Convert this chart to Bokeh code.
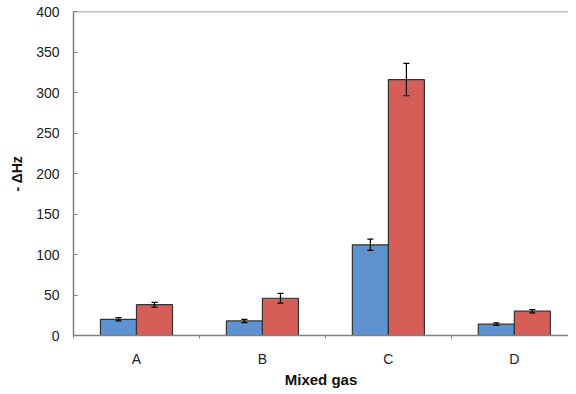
from bokeh.plotting import figure
from bokeh.models import ColumnDataSource, Whisker, FixedTicker, Range1d, Span
from bokeh.embed import file_html
from bokeh.resources import INLINE

categories = ["A", "B", "C", "D"]
series1 = [20, 18, 112, 14]
series1_err = [2, 2, 7, 1.5]
series2 = [38, 46, 316, 30]
series2_err = [3, 6, 20, 2]
y_ticks = [0, 50, 100, 150, 200, 250, 300, 350, 400]

bar_w = 0.286
idx = list(range(len(categories)))
centers = [i + 0.5 for i in idx]
x1 = [c - bar_w / 2 for c in centers]
x2 = [c + bar_w / 2 for c in centers]

src1 = ColumnDataSource(dict(x=x1, top=series1,
                             lo=[v - e for v, e in zip(series1, series1_err)],
                             hi=[v + e for v, e in zip(series1, series1_err)]))
src2 = ColumnDataSource(dict(x=x2, top=series2,
                             lo=[v - e for v, e in zip(series2, series2_err)],
                             hi=[v + e for v, e in zip(series2, series2_err)]))

p = figure(width=568, height=390, output_backend="svg", toolbar_location=None,
           x_range=Range1d(0, 3.93), y_range=Range1d(0, 400),
           min_border_left=73, min_border_right=0, min_border_top=11, min_border_bottom=50)
p.outline_line_color = None
p.xgrid.grid_line_color = None
p.ygrid.grid_line_color = None
p.background_fill_color = "white"
p.border_fill_color = "white"

blue = "#5f92d0"
red = "#d55f58"
p.vbar(x="x", top="top", bottom=0, width=bar_w, source=src1, fill_color=blue,
       line_color="#333333", line_width=1.2)
p.vbar(x="x", top="top", bottom=0, width=bar_w, source=src2, fill_color=red,
       line_color="#333333", line_width=1.2)

for s in (src1, src2):
    w = Whisker(base="x", lower="lo", upper="hi", source=s, line_color="black",
                line_width=1.2, level="overlay")
    w.upper_head.size = 6
    w.lower_head.size = 6
    w.upper_head.line_color = "black"
    w.lower_head.line_color = "black"
    w.upper_head.line_width = 1.2
    w.lower_head.line_width = 1.2
    p.add_layout(w)

p.add_layout(Span(location=400, dimension="width", line_color="#808080", line_width=1.5))

axis_color = "#808080"
font = "Liberation Sans"

xa = p.xaxis[0]
xa.ticker = FixedTicker(ticks=centers, minor_ticks=[0, 1, 2, 3])
xa.major_label_overrides = {c: lab for c, lab in zip(centers, categories)}
xa.major_tick_line_color = None
xa.major_tick_in = 0
xa.major_tick_out = 3
xa.minor_tick_in = 0
xa.minor_tick_out = 3
xa.minor_tick_line_color = axis_color
xa.axis_line_color = axis_color
xa.axis_line_width = 1.5
xa.major_label_text_font = font
xa.major_label_text_font_size = "14px"
xa.major_label_text_color = "#222222"
xa.major_label_standoff = 12
xa.axis_label = "Mixed gas"
xa.axis_label_text_font = font
xa.axis_label_text_font_style = "bold"
xa.axis_label_text_font_size = "15px"
xa.axis_label_text_color = "#111111"
xa.axis_label_standoff = 1

ya = p.yaxis[0]
ya.ticker = FixedTicker(ticks=y_ticks, minor_ticks=[])
ya.major_tick_in = 4
ya.major_tick_out = 0
ya.major_tick_line_color = axis_color
ya.axis_line_color = axis_color
ya.axis_line_width = 1.5
ya.major_label_text_font = font
ya.major_label_text_font_size = "14px"
ya.major_label_text_color = "#222222"
ya.major_label_standoff = 14
ya.axis_label = "- \u0394Hz"
ya.axis_label_text_font = font
ya.axis_label_text_font_style = "bold"
ya.axis_label_text_font_size = "14px"
ya.axis_label_text_color = "#111111"
ya.axis_label_standoff = 8

open("out.html", "w").write(file_html(p, INLINE))
